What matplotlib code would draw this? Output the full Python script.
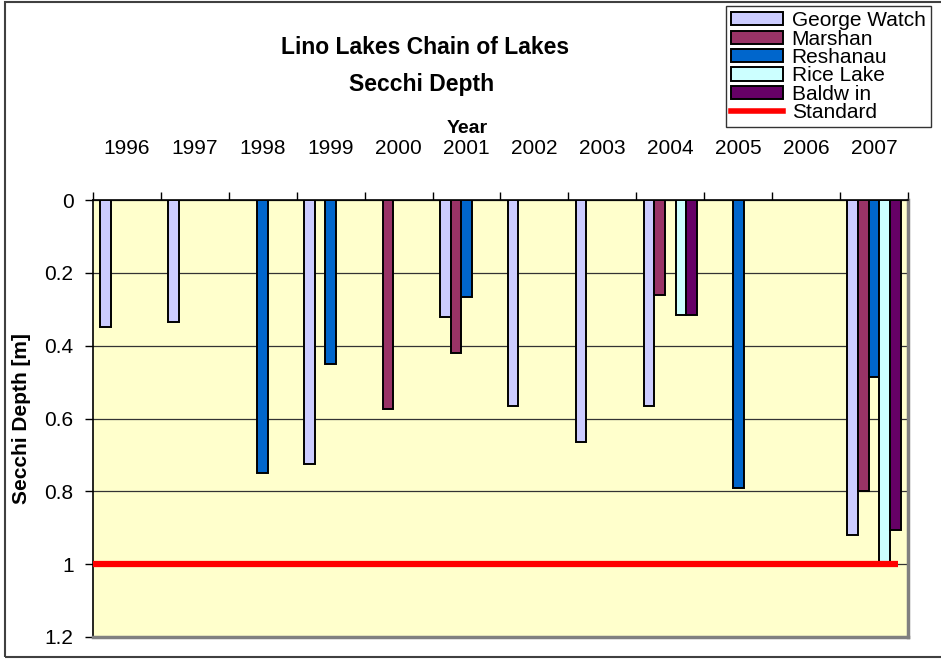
import numpy as np
import matplotlib.pyplot as plt
from matplotlib.patches import Rectangle
from matplotlib.lines import Line2D

plt.rcParams['font.family'] = ['Liberation Sans', 'DejaVu Sans']

years = ['1996', '1997', '1998', '1999', '2000', '2001',
         '2002', '2003', '2004', '2005', '2006', '2007']
nan = np.nan
george_watch = [0.35, 0.335, nan, 0.725, nan, 0.32, 0.565, 0.665, 0.565, nan, nan, 0.92]
marshan = [nan, nan, nan, nan, 0.575, 0.42, nan, nan, 0.26, nan, nan, 0.80]
reshanau = [nan, nan, 0.75, 0.45, nan, 0.265, nan, nan, nan, 0.79, nan, 0.485]
rice_lake = [nan, nan, nan, nan, nan, nan, nan, nan, 0.315, nan, nan, 1.0]
baldwin = [nan, nan, nan, nan, nan, nan, nan, nan, 0.315, nan, nan, 0.905]
standard = 1.0

series = [('George Watch', george_watch, '#CCCCFF'),
          ('Marshan', marshan, '#993366'),
          ('Reshanau', reshanau, '#0066CC'),
          ('Rice Lake', rice_lake, '#CCFFFF'),
          ('Baldw in', baldwin, '#660066')]

fig = plt.figure(figsize=(9.41, 6.6), dpi=100)
ax = fig.add_axes([93/941, 1-637/660, 815/941, 437/660])
ax.set_facecolor('#FFFFCC')

x = np.arange(len(years))
w = 0.157
handles = []
for k, (name, vals, col) in enumerate(series):
    ax.bar(x + (k-2)*w, vals, width=w, color=col, edgecolor='black', linewidth=1.4, zorder=3)
    handles.append(Rectangle((0, 0), 1, 1, facecolor=col, edgecolor='black', linewidth=1.4))

ax.hlines(standard, -0.5, 11.36, color='#FF0000', linewidth=4.5, zorder=4)
handles.append(Line2D([], [], color='#FF0000', linewidth=4))

ax.set_xlim(-0.5, 11.5)
ax.set_ylim(1.2, 0)
ax.set_yticks(np.arange(0, 1.21, 0.2))
ax.set_yticklabels(['0', '0.2', '0.4', '0.6', '0.8', '1', '1.2'], fontsize=15)
ax.yaxis.grid(True, color='#333333', linewidth=0.9, zorder=1)
ax.set_axisbelow(True)

ax.xaxis.tick_top()
ax.set_xticks(np.arange(-0.5, 12, 1))
ax.set_xticklabels([])
ax.set_xticks(x, minor=True)
ax.set_xticklabels(years, minor=True, fontsize=15)
ax.tick_params(axis='x', which='major', direction='out', length=6, width=1, color='black')
ax.tick_params(axis='x', which='minor', length=0, pad=30)
ax.tick_params(axis='y', direction='out', length=6, width=1, pad=8)

for s in ['left', 'top']:
    ax.spines[s].set_color('black')
    ax.spines[s].set_linewidth(1.2)
for s in ['right', 'bottom']:
    ax.spines[s].set_color('#808080')
    ax.spines[s].set_linewidth(2.5)

ax.set_ylabel('Secchi Depth [m]', fontsize=15, fontweight='bold', labelpad=10)
ax.set_xlabel('Year', fontsize=14, fontweight='bold')
ax.xaxis.set_label_position('top')
ax.xaxis.set_label_coords((467-93)/815, (637-133)/437)
ax.xaxis.label.set_va('baseline')

fig.text(425/941, 1-48/660, 'Lino Lakes Chain of Lakes', fontsize=16.5, fontweight='bold',
         ha='center', va='center')
fig.text(422/941, 1-84/660, 'Secchi Depth', fontsize=16.5, fontweight='bold',
         ha='center', va='center')

fig.patches.append(Rectangle((5/941, 3/660), 1.1, 1-5/660, transform=fig.transFigure,
                             fill=False, edgecolor='#404040', linewidth=1.5))

leg = fig.legend(handles, [s[0] for s in series] + ['Standard'],
                 loc='upper left', bbox_to_anchor=(726/941, 1-6/660),
                 fontsize=15, frameon=True, fancybox=False, edgecolor='black',
                 handlelength=2.5, handleheight=0.6, handletextpad=0.4,
                 labelspacing=-0.03, borderpad=0.25, borderaxespad=0)
leg.get_frame().set_linewidth(1)

fig.savefig('out.png', dpi=100)
